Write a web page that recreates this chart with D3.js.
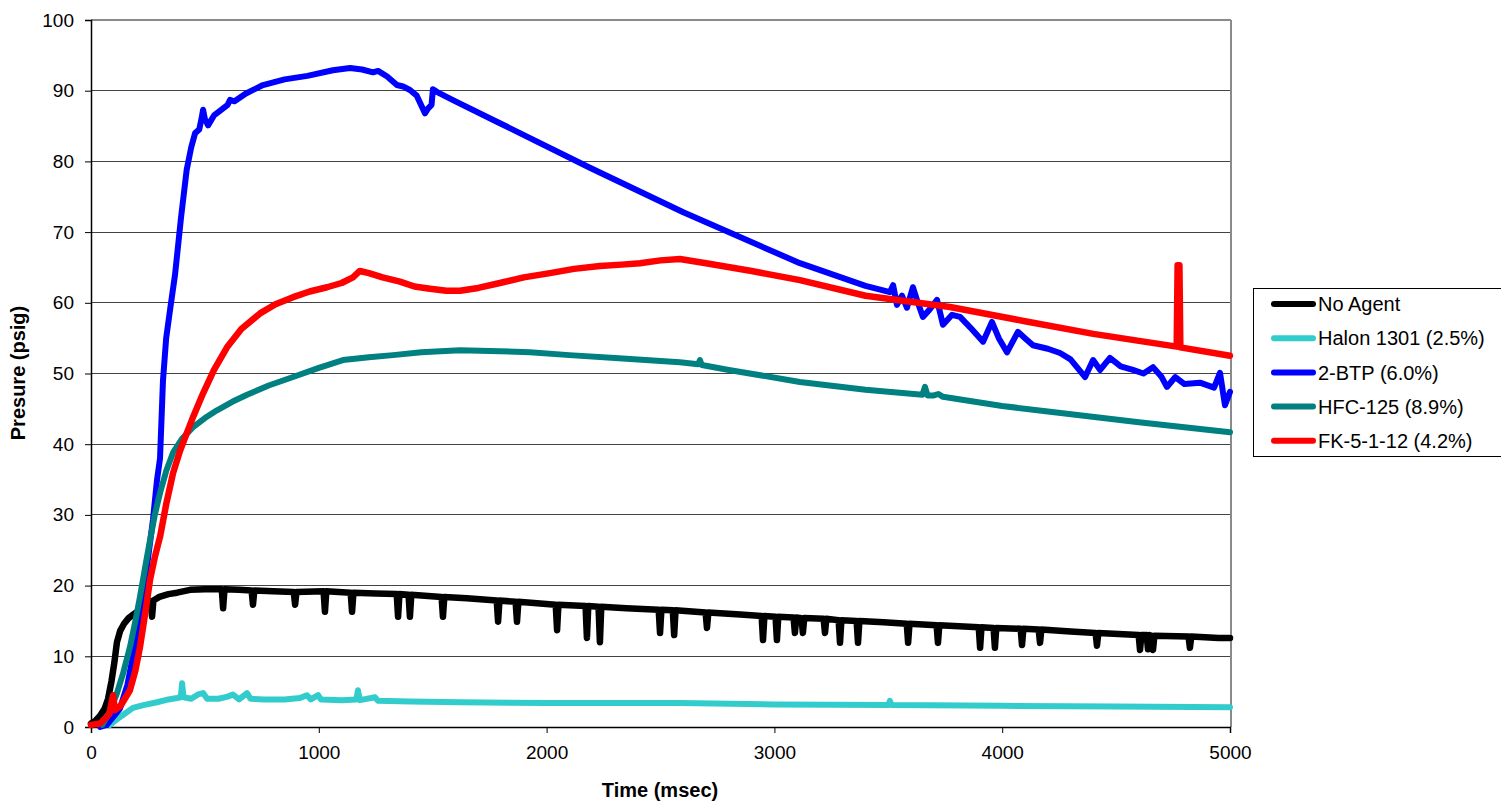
<!DOCTYPE html>
<html>
<head>
<meta charset="utf-8">
<script src="https://cdn.jsdelivr.net/npm/d3@7/dist/d3.min.js"></script>
<style>
  html, body { margin: 0; padding: 0; background: #fff; }
  svg { display: block; font-family: "Liberation Sans", Arial, sans-serif; }
</style>
</head>
<body>
<svg id="chart" width="1501" height="801"></svg>
<script>
// ---------- DATA ----------
const seriesNames = ["No Agent", "Halon 1301 (2.5%)", "2-BTP (6.0%)", "HFC-125 (8.9%)", "FK-5-1-12 (4.2%)"];
const seriesColors = ["#000000", "#33CCCC", "#0000FF", "#008080", "#FF0000"];
const xTicks = [0, 1000, 2000, 3000, 4000, 5000];
const yTicks = [0, 10, 20, 30, 40, 50, 60, 70, 80, 90, 100];

// [time (msec), pressure (psig)]
const noAgent = [[0,0.5],[20,0.9],[40,1.6],[60,2.6],[75,4],[90,6.5],[102,9],[114,12],[128,13.6],[145,14.6],[165,15.4],[185,15.9],[202,16.3],[240,17.2],[262,17.8],[268,15.6],[274,17.9],[300,18.4],[340,18.8],[378,19],[435,19.4],[500,19.5],[574,19.5],[580,16.8],[586,19.5],[650,19.4],[705,19.3],[711,17.3],[717,19.3],[800,19.2],[890,19.1],[896,17.3],[902,19.1],[1021,19.2],[1027,16.3],[1033,19.2],[1140,19],[1146,16.3],[1152,19],[1250,18.9],[1342,18.8],[1348,15.6],[1354,18.8],[1394,18.7],[1400,15.6],[1406,18.7],[1539,18.4],[1545,15.6],[1551,18.4],[1650,18.2],[1781,17.9],[1787,14.9],[1793,17.9],[1864,17.7],[1870,14.9],[1876,17.7],[2040,17.3],[2046,13.7],[2052,17.3],[2171,17.1],[2177,12.6],[2183,17.1],[2228,17],[2234,12],[2240,17],[2350,16.8],[2492,16.6],[2498,13.3],[2504,16.6],[2554,16.5],[2560,13],[2566,16.5],[2698,16.2],[2704,14],[2710,16.2],[2850,15.9],[2944,15.7],[2950,12.3],[2956,15.7],[3005,15.6],[3011,12.3],[3017,15.6],[3084,15.5],[3090,13.3],[3096,15.5],[3119,15.4],[3125,13.3],[3131,15.4],[3216,15.3],[3222,13.3],[3228,15.3],[3282,15.1],[3288,11.9],[3294,15.1],[3361,15],[3367,11.9],[3373,15],[3480,14.8],[3581,14.6],[3587,11.9],[3593,14.6],[3712,14.4],[3718,11.9],[3724,14.4],[3897,14.1],[3903,11.2],[3909,14.1],[3962,14],[3968,11.2],[3974,14],[4081,13.9],[4087,11.6],[4093,13.9],[4160,13.8],[4166,11.9],[4172,13.8],[4300,13.5],[4410,13.3],[4416,11.5],[4422,13.3],[4599,13],[4605,10.9],[4611,13],[4634,13],[4640,11],[4646,13],[4656,12.9],[4662,10.9],[4668,12.9],[4818,12.8],[4824,11.2],[4830,12.8],[4950,12.6],[5000,12.6]];

const halon = [[83,0.3],[110,1],[140,1.7],[184,2.7],[230,3.1],[290,3.5],[340,3.9],[378,4.1],[394,4.2],[400,6.2],[406,4.2],[440,4],[470,4.6],[492,4.8],[510,4],[560,4],[600,4.3],[623,4.6],[650,3.9],[685,4.8],[700,4],[760,3.9],[850,3.9],[917,4.1],[948,4.5],[965,3.9],[997,4.5],[1010,3.9],[1100,3.8],[1165,3.9],[1172,5.2],[1180,3.8],[1247,4.2],[1260,3.7],[1400,3.6],[1620,3.5],[2000,3.4],[2585,3.4],[3000,3.2],[3500,3.1],[3507,3.7],[3515,3.1],[4000,3],[4500,2.9],[5000,2.8]];

const btp = [[40,0],[69,0.3],[100,1.5],[127,2.6],[160,6],[190,11],[215,16.1],[245,22.5],[272,29.3],[290,35],[303,38],[316,49],[330,55],[347,59],[369,64],[395,72],[420,78.8],[440,82],[457,84],[475,84.5],[485,86],[492,87.3],[500,86],[514,85.1],[540,86.5],[580,87.5],[600,88],[610,88.7],[630,88.5],[680,89.6],[755,90.8],[850,91.6],[950,92.1],[1062,92.9],[1137,93.2],[1190,93],[1238,92.6],[1260,92.8],[1300,92],[1343,90.8],[1370,90.6],[1400,90.1],[1430,89.3],[1466,86.8],[1480,87.5],[1495,88],[1501,90.2],[1520,89.8],[1600,88.5],[1795,85.4],[2190,79.1],[2600,72.8],[3112,65.6],[3400,62.4],[3507,61.5],[3521,62.5],[3538,59.7],[3560,61],[3582,59.3],[3608,62.2],[3630,60],[3652,58],[3680,59],[3714,60.4],[3740,56.9],[3780,58.3],[3815,58],[3860,56.5],[3916,54.5],[3955,57.3],[3985,55],[4021,53],[4069,55.9],[4100,55],[4135,54],[4200,53.5],[4254,52.9],[4300,52],[4364,49.5],[4399,51.9],[4430,50.5],[4473,52.2],[4520,51],[4574,50.5],[4620,50],[4662,50.9],[4700,49.5],[4723,48.1],[4760,49.5],[4800,48.5],[4868,48.7],[4930,48],[4956,50.1],[4978,45.5],[5000,47.4]];

const hfc125 = [[50,0.3],[80,2],[114,4.8],[140,7.5],[171,11.3],[195,15],[215,18.4],[240,23],[259,26.4],[280,30],[303,33.1],[330,36.2],[360,38.8],[400,40.8],[448,42.4],[500,43.7],[553,44.8],[620,46],[685,47],[780,48.3],[887,49.5],[1000,50.8],[1106,51.9],[1220,52.3],[1326,52.6],[1450,53],[1620,53.3],[1750,53.2],[1927,53],[2100,52.6],[2300,52.2],[2585,51.6],[2665,51.3],[2673,51.9],[2681,51.2],[2800,50.5],[3112,48.8],[3400,47.7],[3650,47],[3661,48.1],[3672,46.9],[3700,46.9],[3720,47.1],[3740,46.7],[4000,45.4],[4210,44.6],[4600,43.1],[5000,41.7]];

const fk5112 = [[0,0.3],[40,0.5],[80,1.8],[97,4.5],[105,2.4],[130,3],[171,5.2],[195,8],[215,11.3],[240,16.5],[259,20.8],[280,24],[303,26.9],[330,31.5],[360,35.9],[390,39],[421,41.6],[450,44],[492,47.2],[540,50.5],[597,53.7],[660,56.3],[742,58.5],[810,59.8],[887,60.8],[960,61.6],[1036,62.2],[1100,62.8],[1150,63.6],[1180,64.5],[1220,64.2],[1280,63.6],[1356,63],[1420,62.3],[1488,62],[1560,61.7],[1620,61.7],[1700,62.1],[1795,62.8],[1900,63.6],[2015,64.2],[2120,64.8],[2234,65.2],[2330,65.4],[2410,65.6],[2500,66],[2585,66.2],[2700,65.6],[2900,64.5],[3112,63.2],[3400,61],[3771,59.4],[4100,57.4],[4400,55.6],[4766,53.8],[4770,65.3],[4778,65.3],[4782,53.7],[5000,52.5]];

const seriesData = [noAgent, halon, btp, hfc125, fk5112];
const seriesWidths = [6.5, 6, 6, 6, 6.5];

// ---------- LAYOUT ----------
const svg = d3.select("#chart");
const L = 91, T = 20, R = 1230, B = 727;
const x = d3.scaleLinear().domain([0, 5000]).range([L, R]);
const y = d3.scaleLinear().domain([0, 100]).range([B, T]);

// gridlines
svg.append("g")
  .selectAll("line")
  .data(yTicks.filter(d => d > 0 && d < 100))
  .join("line")
  .attr("x1", L).attr("x2", R)
  .attr("y1", d => y(d)).attr("y2", d => y(d))
  .attr("stroke", "#444").attr("stroke-width", 1)
  .attr("shape-rendering", "crispEdges");

// plot border top/right (gray)
svg.append("line").attr("x1", L).attr("x2", R + 1).attr("y1", T).attr("y2", T)
  .attr("stroke", "#8a8a8a").attr("stroke-width", 2).attr("shape-rendering", "crispEdges");
svg.append("line").attr("x1", R + 0.5).attr("x2", R + 0.5).attr("y1", T).attr("y2", B)
  .attr("stroke", "#8a8a8a").attr("stroke-width", 2).attr("shape-rendering", "crispEdges");

// axes
const yAxis = d3.axisLeft(y).tickValues(yTicks).tickSize(6).tickPadding(11).tickFormat(d3.format("d"));
const xAxis = d3.axisBottom(x).tickValues(xTicks).tickSize(6).tickPadding(13).tickFormat(d3.format("d"));

const gy = svg.append("g").attr("transform", `translate(${L},0)`).call(yAxis);
const gx = svg.append("g").attr("transform", `translate(0,${B})`).call(xAxis);
[gx, gy].forEach(g => {
  g.select(".domain").attr("stroke", "#000").attr("stroke-width", 1.5);
  g.selectAll(".tick line").attr("stroke", "#000").attr("stroke-width", 1);
  g.selectAll("text").attr("fill", "#000").style("font-size", "19px")
    .style("font-family", '"Liberation Sans", Arial, sans-serif');
});

// lines
const lineGen = d3.line().x(d => x(d[0])).y(d => y(d[1]));
svg.append("g")
  .selectAll("path")
  .data(seriesData)
  .join("path")
  .attr("d", d => lineGen(d))
  .attr("fill", "none")
  .attr("stroke", (d, i) => seriesColors[i])
  .attr("stroke-width", (d, i) => seriesWidths[i])
  .attr("stroke-linejoin", "round")
  .attr("stroke-linecap", "round");

// axis titles
svg.append("text")
  .attr("x", 660).attr("y", 797)
  .attr("text-anchor", "middle")
  .style("font-size", "20px").style("font-weight", "bold")
  .text("Time (msec)");
svg.append("text")
  .attr("transform", `translate(25,373) rotate(-90)`)
  .attr("text-anchor", "middle")
  .style("font-size", "20px").style("font-weight", "bold")
  .text("Presure (psig)");

// legend
const lg = svg.append("g");
lg.append("rect").attr("x", 1253.5).attr("y", 288.5).attr("width", 260).attr("height", 168)
  .attr("fill", "#fff").attr("stroke", "#000").attr("stroke-width", 1);
const items = lg.selectAll("g.item").data(seriesNames).join("g")
  .attr("class", "item")
  .attr("transform", (d, i) => `translate(0,${304 + i * 34.2})`);
items.append("line").attr("x1", 1274).attr("x2", 1313).attr("y1", 0).attr("y2", 0)
  .attr("stroke", (d, i) => seriesColors[i]).attr("stroke-width", 6).attr("stroke-linecap", "round");
items.append("text").attr("x", 1318).attr("y", 0).attr("dy", "0.36em")
  .style("font-size", "20px").text(d => d);
</script>
</body>
</html>
